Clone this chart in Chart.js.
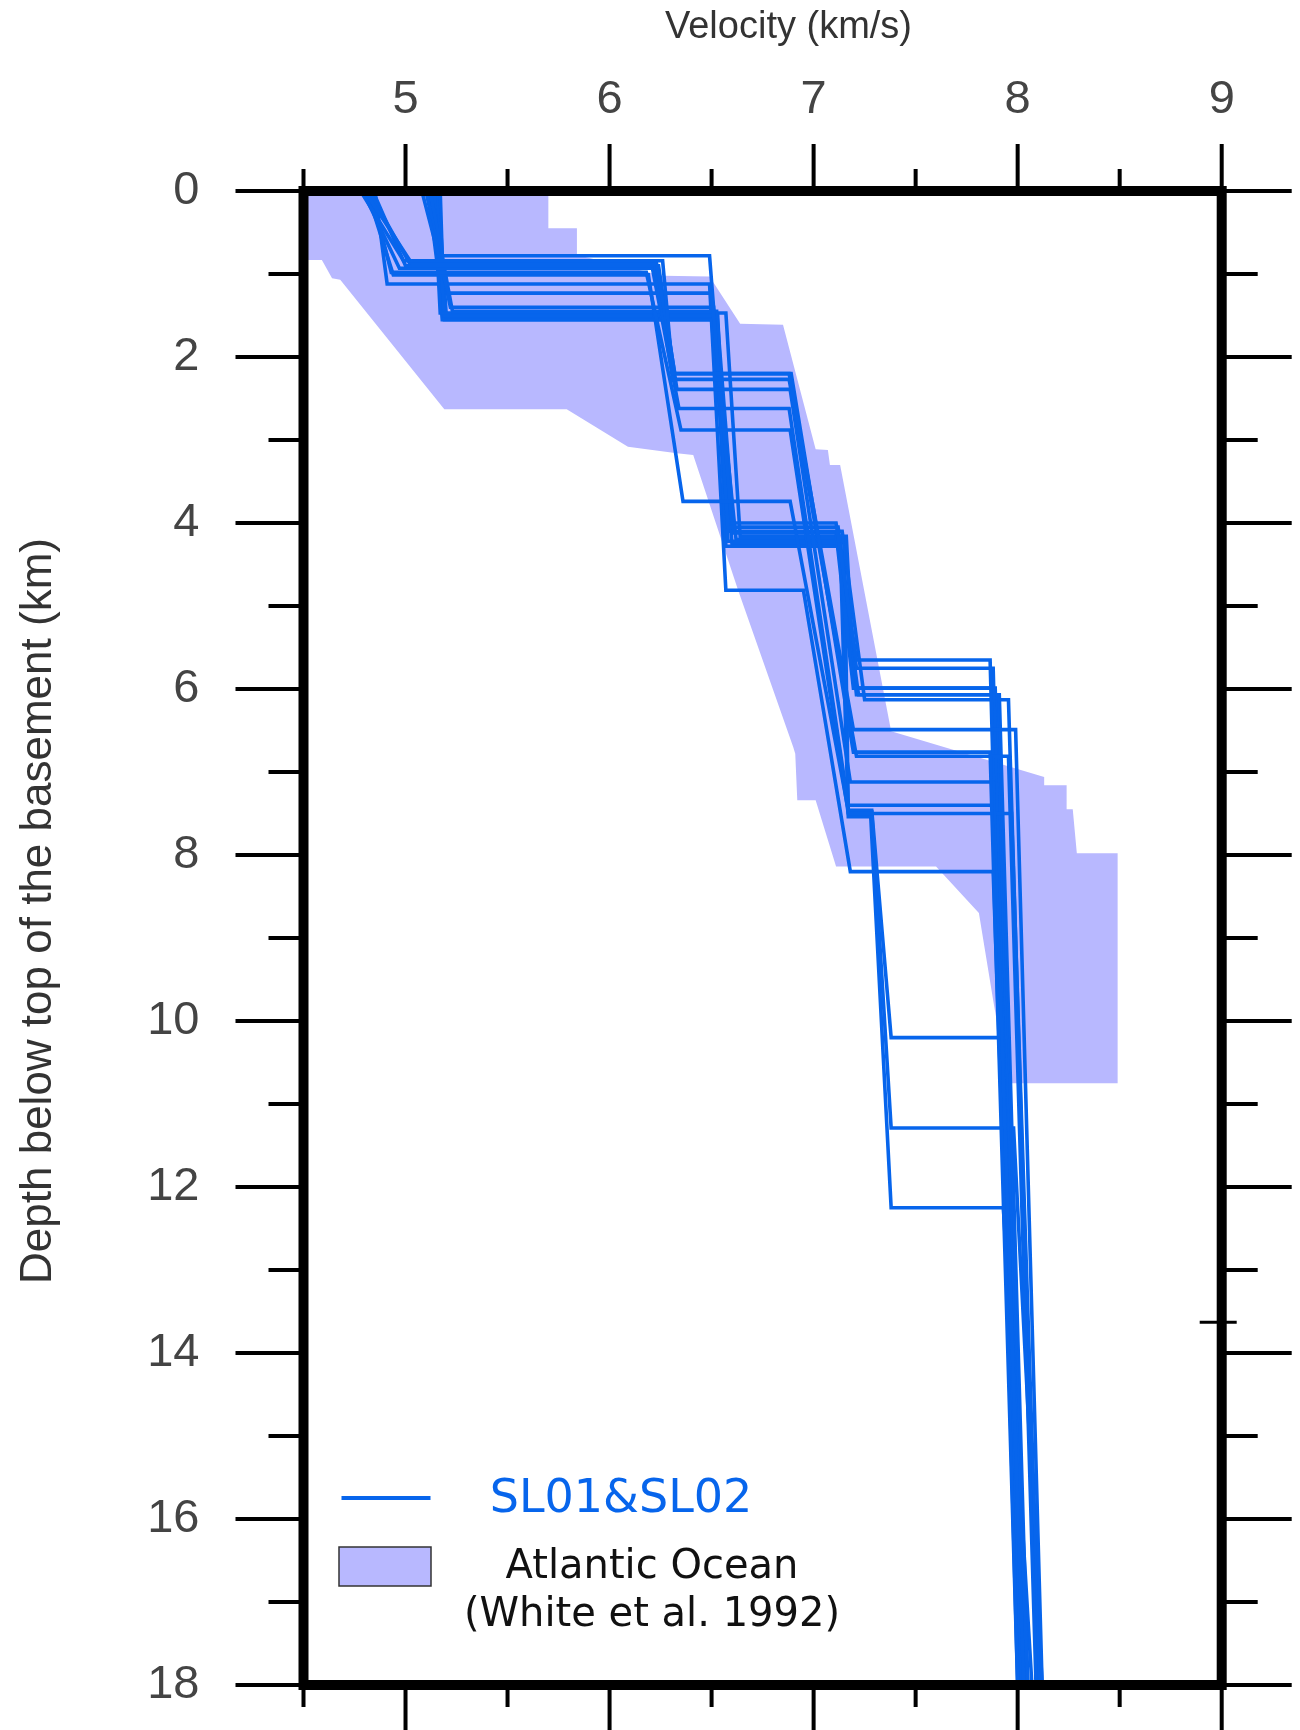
<!DOCTYPE html>
<html>
<head>
<meta charset="utf-8">
<title>Velocity-depth profiles</title>
<script src="https://cdn.jsdelivr.net/npm/chart.js@4.4.1/dist/chart.umd.min.js"></script>
<style>
  html, body { margin: 0; padding: 0; background: #fff; }
  #wrap { width: 1300px; height: 1730px; position: relative; }
</style>
</head>
<body>
<div id="wrap"><canvas id="velChart"></canvas></div>
<script>
const ctx = document.getElementById('velChart').getContext('2d');

// SL01 & SL02 1-D velocity models, one row per profile:
// depth below basement (km) of each vertex and velocity (km/s) there
const slDepth = [
  [0, 0.84, 0.84, 2.20, 2.20, 6.49, 6.49, 18],
  [0, 0.87, 0.87, 2.20, 2.20, 6.76, 6.76, 18],
  [0, 0.87, 0.87, 2.27, 2.27, 6.81, 6.81, 18],
  [0, 0.90, 0.90, 2.39, 2.39, 7.12, 7.12, 18],
  [0, 0.93, 0.93, 2.62, 2.62, 7.40, 7.40, 18],
  [0, 0.98, 0.98, 2.88, 2.88, 7.50, 7.50, 18],
  [0, 1.01, 1.01, 3.74, 3.74, 7.46, 7.46, 10.20, 10.20, 18],
  [0, 1.23, 1.23, 4.00, 4.00, 5.65, 5.65, 18],
  [0, 1.40, 1.40, 4.05, 4.05, 5.75, 5.75, 18],
  [0, 1.45, 1.45, 4.12, 4.12, 5.99, 5.99, 18],
  [0, 1.47, 1.47, 4.16, 4.16, 5.99, 5.99, 18],
  [0, 1.50, 1.50, 4.22, 4.22, 6.07, 6.07, 18],
  [0, 1.51, 1.51, 4.28, 4.28, 6.07, 6.07, 18],
  [0, 1.55, 1.55, 4.10, 4.10, 6.13, 6.13, 18],
  [0, 1.55, 1.55, 4.20, 4.20, 7.48, 7.48, 11.29, 11.29, 18],
  [0, 1.12, 1.12, 4.81, 4.81, 8.20, 8.20, 18],
  [0, 0.78, 0.78, 4.25, 4.25, 7.54, 7.54, 12.25, 12.25, 18]
];
const slVel = [
  [4.78, 4.99, 6.26, 6.31, 6.88, 7.195, 7.99, 8.12],
  [4.80, 5.03, 6.23, 6.32, 6.89, 7.195, 7.865, 8.00],
  [4.82, 5.02, 6.22, 6.31, 6.88, 7.21, 7.955, 8.09],
  [4.84, 5.00, 6.24, 6.33, 6.885, 7.18, 7.88, 8.03],
  [4.79, 4.97, 6.21, 6.34, 6.88, 7.17, 7.88, 8.02],
  [4.83, 4.93, 6.18, 6.35, 6.885, 7.17, 7.97, 8.11],
  [4.81, 4.94, 6.19, 6.36, 6.885, 7.17, 7.285, 7.38, 7.91, 8.05],
  [5.08, 5.21, 6.50, 6.60, 7.11, 7.21, 7.865, 8.00],
  [5.10, 5.22, 6.51, 6.58, 7.12, 7.21, 7.88, 8.01],
  [5.12, 5.23, 6.525, 6.61, 7.11, 7.195, 7.88, 8.02],
  [5.14, 5.17, 6.57, 6.64, 7.16, 7.20, 7.89, 8.03],
  [5.15, 5.19, 6.53, 6.58, 7.13, 7.21, 7.90, 8.04],
  [5.16, 5.20, 6.52, 6.57, 7.12, 7.22, 7.91, 8.05],
  [5.11, 5.19, 6.50, 6.59, 7.14, 7.25, 7.955, 8.10],
  [5.13, 5.18, 6.51, 6.62, 7.15, 7.17, 7.285, 7.38, 7.98, 8.12],
  [4.85, 4.91, 6.49, 6.57, 6.95, 7.18, 7.88, 8.02],
  [5.17, 5.18, 6.49, 6.60, 7.13, 7.17, 7.28, 7.38, 7.93, 8.07]
];

// Atlantic Ocean envelope (White et al. 1992), outline traced clockwise
const atlVel = [4.50, 5.70, 5.70, 5.84, 5.84, 6.26, 6.49, 6.64, 6.85, 7.01, 7.07, 7.08, 7.13,
  7.38, 8.13, 8.13, 8.24, 8.24, 8.27, 8.29, 8.49, 8.49, 7.95, 7.88, 7.81, 7.60, 7.11, 7.01,
  6.92, 6.91, 6.90, 6.63, 6.41, 6.33, 6.09, 5.79, 5.19, 4.68, 4.64, 4.59, 4.50, 4.50];
const atlDepth = [0, 0, 0.45, 0.45, 0.77, 1.02, 1.03, 1.60, 1.61, 3.11, 3.12, 3.30, 3.30,
  6.51, 7.06, 7.16, 7.16, 7.45, 7.45, 7.98, 7.98, 10.75, 10.75, 9.75, 8.70, 8.14, 8.14, 7.34,
  7.34, 6.78, 6.70, 4.81, 3.18, 3.16, 3.08, 2.63, 2.63, 1.07, 1.05, 0.83, 0.83, 0];

const velTicks = [5, 6, 7, 8, 9];
const depthTicks = [0, 2, 4, 6, 8, 10, 12, 14, 16, 18];

const slColor = '#0765ec';
const atlColor = '#b8b8ff';

const datasets = slVel.map((vs, i) => ({
  label: 'SL01&SL02',
  data: vs.map((v, j) => ({ x: v, y: slDepth[i][j] })),
  showLine: true,
  borderColor: slColor,
  borderWidth: 3.6,
  pointRadius: 0,
  fill: false,
  order: 0
}));
datasets.push({
  label: 'Atlantic Ocean',
  data: atlVel.map((v, j) => ({ x: v, y: atlDepth[j] })),
  showLine: true,
  borderWidth: 0,
  borderColor: 'rgba(0,0,0,0)',
  backgroundColor: atlColor,
  fill: 'shape',
  pointRadius: 0,
  order: 1
});

// box, outward ticks, axis titles and the legend
const frameAndLegend = {
  id: 'frameAndLegend',
  afterDatasetsDraw(chart) {
    const { ctx, chartArea: a, scales: { x, y } } = chart;
    ctx.save();
    ctx.strokeStyle = '#000';
    ctx.lineWidth = 4;
    ctx.beginPath();
    for (let v = 4.5; v <= 9.001; v += 0.5) {
      const px = x.getPixelForValue(v);
      const major = Number.isInteger(v);
      ctx.moveTo(px, a.top);
      ctx.lineTo(px, a.top - (major ? 47 : 22));
      ctx.moveTo(px, a.bottom);
      ctx.lineTo(px, a.bottom + (major ? 50 : 22));
    }
    for (let d = 0; d <= 18; d++) {
      const py = y.getPixelForValue(d);
      const major = d % 2 === 0;
      ctx.moveTo(a.left, py);
      ctx.lineTo(a.left - (major ? 68 : 35), py);
      ctx.moveTo(a.right, py);
      ctx.lineTo(a.right + (major ? 70 : 36), py);
    }
    ctx.stroke();

    // short tick straddling the right edge
    ctx.lineWidth = 3;
    ctx.beginPath();
    const sy = y.getPixelForValue(13.63);
    ctx.moveTo(a.right - 22, sy);
    ctx.lineTo(a.right + 15, sy);
    ctx.stroke();

    ctx.lineWidth = 10;
    ctx.strokeRect(a.left, a.top, a.right - a.left, a.bottom - a.top);
    ctx.restore();
  },
  afterDraw(chart) {
    const { ctx, chartArea: a } = chart;
    ctx.save();
    ctx.fillStyle = '#333';
    ctx.textAlign = 'center';
    ctx.textBaseline = 'middle';
    ctx.font = '38px "Liberation Sans"';
    ctx.fillText('Velocity (km/s)', a.left + 485, 28);

    ctx.translate(39, a.top + 720);
    ctx.rotate(-Math.PI / 2);
    ctx.font = '44px "Liberation Sans"';
    ctx.fillText('Depth below top of the basement (km)', 0, 0);
    ctx.restore();

    // legend
    ctx.save();
    ctx.strokeStyle = slColor;
    ctx.lineWidth = 4;
    ctx.beginPath();
    ctx.moveTo(a.left + 38, a.bottom - 187);
    ctx.lineTo(a.left + 127, a.bottom - 187);
    ctx.stroke();

    ctx.fillStyle = atlColor;
    ctx.fillRect(a.left + 35.5, a.bottom - 138, 92, 39);
    ctx.strokeStyle = '#333';
    ctx.lineWidth = 1.5;
    ctx.strokeRect(a.left + 35.5, a.bottom - 138, 92, 39);

    ctx.textAlign = 'center';
    ctx.textBaseline = 'middle';
    ctx.fillStyle = slColor;
    ctx.font = '46px "DejaVu Sans"';
    ctx.fillText('SL01&SL02', a.left + 317.5, a.bottom - 185);
    ctx.fillStyle = '#111';
    ctx.font = '40px "DejaVu Sans"';
    ctx.fillText('Atlantic Ocean', a.left + 348.5, a.bottom - 117);
    ctx.fillText('(White et al. 1992)', a.left + 348.5, a.bottom - 69);
    ctx.restore();
  }
};

const tickFont = { family: 'Liberation Sans', size: 47 };

// keep the plot box where it is: tick padding must not eat into the layout
const fixPadding = axis => {
  axis.paddingTop = 0;
  axis.paddingBottom = 0;
  axis.paddingLeft = 0;
  axis.paddingRight = 0;
};

new Chart(ctx, {
  type: 'scatter',
  data: { datasets },
  options: {
    responsive: true,
    maintainAspectRatio: false,
    animation: false,
    layout: { padding: { top: 0, left: 0, right: 78.3, bottom: 45 } },
    scales: {
      x: {
        type: 'linear',
        position: 'top',
        min: 4.5,
        max: 9,
        afterBuildTicks: axis => { axis.ticks = velTicks.map(value => ({ value })); },
        afterFit: axis => { axis.height = 191; fixPadding(axis); },
        grid: { display: false },
        border: { display: false },
        ticks: { color: '#444', font: tickFont, padding: 55, maxRotation: 0 }
      },
      y: {
        type: 'linear',
        position: 'left',
        reverse: true,
        min: 0,
        max: 18,
        afterBuildTicks: axis => { axis.ticks = depthTicks.map(value => ({ value })); },
        afterFit: axis => { axis.width = 303.5; fixPadding(axis); },
        grid: { display: false },
        border: { display: false },
        ticks: { color: '#444', font: tickFont, padding: 96 }
      }
    },
    plugins: {
      legend: { display: false },
      tooltip: { enabled: false }
    }
  },
  plugins: [frameAndLegend]
});
</script>
</body>
</html>
